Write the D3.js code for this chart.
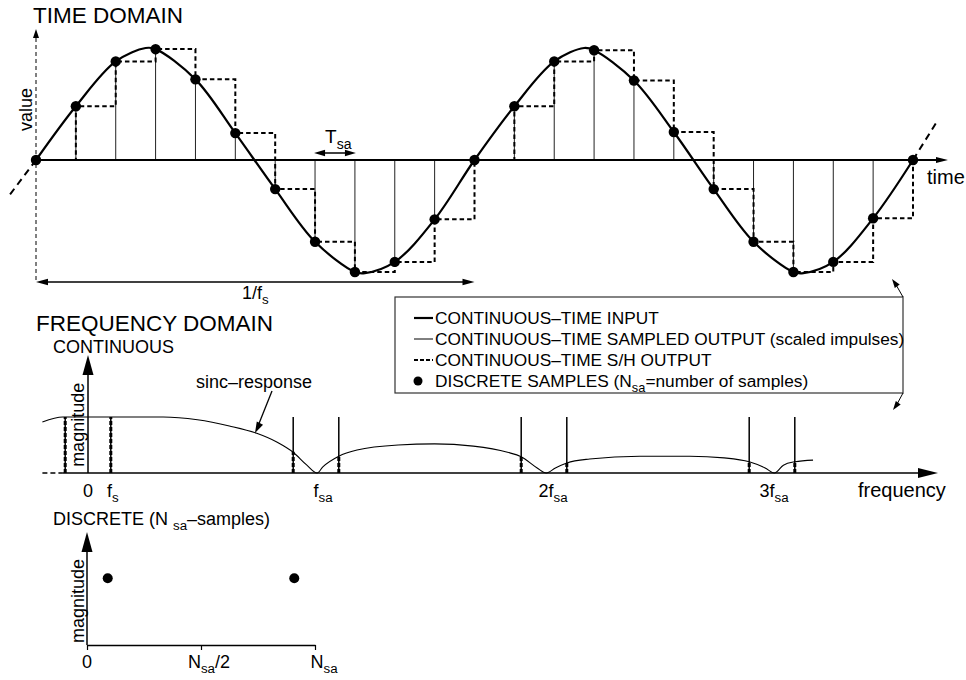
<!DOCTYPE html>
<html><head><meta charset="utf-8">
<script src="https://cdn.jsdelivr.net/npm/d3@7"></script>
<style>
body{margin:0;background:#fff}
svg{display:block;font-family:"Liberation Sans",Arial,Helvetica,sans-serif}
</style>
</head><body>
<svg id="c" width="966" height="680"></svg>
<script>
// ---------------- DATA ----------------
// time domain: sample index and sampled values (normalized amplitude)
const sampleIndex  = [0,1,2,3,4,5,6,7,8,9,10,11,12,13,14,15,16,17,18,19,20,21,22];
const sampleValues = [0,0.48,0.88,0.99,0.72,0.24,-0.26,-0.73,-1.0,-0.91,-0.53,0,
                      0.48,0.88,0.98,0.71,0.25,-0.26,-0.73,-1.0,-0.91,-0.52,0];
// continuous input: samples plus the visible extrema
const inputT = [0,1,2,2.75,3,4,5,6,7,8,8.25,9,10,11,12,13,13.75,14,15,16,17,18,19,19.25,20,21,22];
const inputV = [0,0.48,0.88,1.0,0.99,0.72,0.24,-0.26,-0.73,-1.0,-1.01,-0.91,-0.53,0,
                0.48,0.88,1.0,0.98,0.71,0.25,-0.26,-0.73,-1.0,-1.01,-0.91,-0.52,0];
// dashed extensions of the input beyond the drawn periods
const extLeftT = [0,-0.7],   extLeftV = [0,-0.33];
const extRightT = [22,22.63], extRightV = [0,0.36];

// frequency domain (continuous), frequency in units of f_sa
const sincF = [-0.20,-0.11,0,0.33,0.48,0.62,0.74,0.83,0.90,0.96,1.005,1.03,1.10,1.18,1.36,1.52,1.69,1.84,1.90,1.97,2.01,2.05,2.10,2.20,2.42,2.64,2.79,2.90,2.97,3.01,3.05,3.10,3.18];
const sincM = [0.91,1.0,1.0,1.0,0.95,0.84,0.71,0.55,0.37,0.14,0,0.11,0.30,0.41,0.50,0.52,0.48,0.37,0.29,0.09,0,0.09,0.18,0.25,0.30,0.30,0.27,0.20,0.09,0,0.14,0.20,0.23];
const impulseF   = [-0.1,0.1,0.9,1.1,1.9,2.1,2.9,3.1];
const sampledMag = [1,1,1,1,1,1,1,1];
const shMag      = [1,1,0.38,0.30,0.29,0.18,0.20,0.19];
const freqTickF  = [0,0.1,1,2,3];
const freqTickLabels = [["0"],["f","s"],["f","sa"],["2f","sa"],["3f","sa"]];

// frequency domain (discrete, N_sa = 22 bins)
const binIndex = [2,20];
const binMag   = [0.59,0.59];
const binTicks = [0,11,22];
const binTickLabels = [["0"],["N","sa","/2"],["N","sa"]];

const legendItems = [
  {type:"thick", parts:[["CONTINUOUS\u2013TIME INPUT"]]},
  {type:"thin",  parts:[["CONTINUOUS\u2013TIME SAMPLED OUTPUT (scaled impulses)"]]},
  {type:"dash",  parts:[["CONTINUOUS\u2013TIME S/H OUTPUT"]]},
  {type:"dot",   parts:[["DISCRETE SAMPLES (N"],["sa",true],["=number of samples)"]]}
];

// ---------------- DRAWING ----------------
const svg = d3.select("#c");
const K = "#000";

function line(g,x1,y1,x2,y2,w,dash,col){
  const l=g.append("line").attr("x1",x1).attr("y1",y1).attr("x2",x2).attr("y2",y2)
    .attr("stroke",col||K).attr("stroke-width",w);
  if(dash) l.attr("stroke-dasharray",dash);
  return l;
}
function head(g,x1,y1,x2,y2,len,hw){
  const a=Math.atan2(y2-y1,x2-x1), c=Math.cos(a), s=Math.sin(a);
  const bx=x2-len*c, by=y2-len*s;
  g.append("path").attr("d",`M${x2},${y2}L${bx-hw*s},${by+hw*c}L${bx+hw*s},${by-hw*c}Z`).attr("fill",K);
}
function rich(g,x,y,parts,size,anchor){
  const t=g.append("text").attr("x",x).attr("y",y).attr("font-size",size)
    .attr("text-anchor",anchor||"start").attr("fill",K);
  let cur=0;
  parts.forEach(([s,sub])=>{
    const target = sub ? size*0.3 : 0;
    const ts=t.append("tspan").text(s).attr("dy",target-cur);
    if(sub) ts.attr("font-size",size*0.74);
    cur=target;
  });
  return t;
}
function alt(arr){ return arr.map((s,i)=>[s, i%2===1]); }

// ===== TIME DOMAIN =====
const tx = d3.scaleLinear().domain([0,22]).range([36,913]);
const ty = d3.scaleLinear().domain([-1,1]).range([272,48]);
const gT = svg.append("g");

rich(gT,33,23,[["TIME DOMAIN"]],22.5);

// value axis (dashed) with arrow
line(gT,tx(0),38,tx(0),282,1,"4,3");
head(gT,tx(0),40,tx(0),29,9,3);
gT.append("text").attr("transform",`translate(32,${ty(0.45)}) rotate(-90)`)
  .attr("text-anchor","middle").attr("font-size",18).text("value");

// impulses (sampled output)
sampleIndex.forEach((t,i)=>{
  if(sampleValues[i]!==0) line(gT,tx(t),ty(0),tx(t),ty(sampleValues[i]),1,null,"#222");
});

// S/H output
const shLine = d3.line().x((d,i)=>tx(sampleIndex[i])).y(d=>ty(d)).curve(d3.curveStepAfter);
gT.append("path").attr("d",shLine(sampleValues)).attr("fill","none")
  .attr("stroke",K).attr("stroke-width",2).attr("stroke-dasharray","4.5,3");

// time axis
line(gT,tx(0),ty(0),940,ty(0),1.8);
head(gT,930,ty(0),948,ty(0),12,3);
rich(gT,927,184,[["time"]],20);

// continuous input
const inLine = d3.line().x((d,i)=>tx(inputT[i])).y(d=>ty(d)).curve(d3.curveCatmullRom.alpha(0.5));
gT.append("path").attr("d",inLine(inputV)).attr("fill","none").attr("stroke",K).attr("stroke-width",2.2);
const extLine = (T)=>d3.line().x((d,i)=>tx(T[i])).y(d=>ty(d));
gT.append("path").attr("d",extLine(extLeftT)(extLeftV)).attr("fill","none").attr("stroke",K).attr("stroke-width",2).attr("stroke-dasharray","7,5");
gT.append("path").attr("d",extLine(extRightT)(extRightV)).attr("fill","none").attr("stroke",K).attr("stroke-width",2).attr("stroke-dasharray","7,5");

// discrete samples
gT.selectAll("circle.s").data(sampleValues).join("circle").attr("class","s")
  .attr("cx",(d,i)=>tx(sampleIndex[i])).attr("cy",d=>ty(d)).attr("r",5.2).attr("fill",K);

// T_sa annotation
line(gT,tx(7)+3,153,tx(8)-3,153,1.5);
head(gT,tx(7)+10,153,tx(7)-1,153,11,3.2);
head(gT,tx(8)-10,153,tx(8)+1,153,11,3.2);
rich(gT,tx(7)+10,143,[["T"],["sa",true]],19);

// 1/f_s annotation
line(gT,tx(0)+4,282,tx(11)-4,282,1.5);
head(gT,tx(0)+12,282,tx(0),282,12,3.3);
head(gT,tx(11)-12,282,tx(11),282,12,3.3);
rich(gT,(tx(0)+tx(11))/2,299,[["1/f"],["s",true]],18,"middle");

// ===== LEGEND =====
const gL = svg.append("g");
gL.append("rect").attr("x",395).attr("y",297).attr("width",508).attr("height",96)
  .attr("fill","#fff").attr("stroke","#333").attr("stroke-width",1.2);
const rowY = [318,339,360,381];
legendItems.forEach((it,i)=>{
  const y=rowY[i];
  if(it.type==="thick") line(gL,414,y,433,y,2.2);
  if(it.type==="thin")  line(gL,414,y,433,y,1);
  if(it.type==="dash")  line(gL,414,y,433,y,2,"4,2");
  if(it.type==="dot")   gL.append("circle").attr("cx",418).attr("cy",y).attr("r",4.5).attr("fill",K);
  rich(gL,435,y+6,it.parts,17.3);
});
line(gL,903,297,895,283,1);
head(gL,897,286,892,279,9,3);
line(gL,903,393,896,406,1);
head(gL,898,403,893,410,9,3);

// ===== FREQUENCY DOMAIN : CONTINUOUS =====
const fx = d3.scaleLinear().domain([0,1]).range([88,316]);
const fy = d3.scaleLinear().domain([0,1]).range([473,417]);
const gF = svg.append("g");
rich(gF,36,331,[["FREQUENCY DOMAIN"]],22.5);
rich(gF,53,353,[["CONTINUOUS"]],18);

// axes
line(gF,fx(0),370,fx(0),fy(0),1.5);
head(gF,fx(0),380,fx(0),355,20,5.5);
line(gF,fx(-0.2),fy(0),fx(-0.11),fy(0),1.5,"5,3");
line(gF,fx(-0.11),fy(0),925,fy(0),1.5);
head(gF,900,fy(0),938,fy(0),20,5);
gF.append("text").attr("transform",`translate(84,${fy(0.86)}) rotate(-90)`)
  .attr("text-anchor","middle").attr("font-size",18).text("magnitude");

// sinc response
const sincLine = d3.line().x((d,i)=>fx(sincF[i])).y(d=>fy(d)).curve(d3.curveMonotoneX);
gF.append("path").attr("d",sincLine(sincM)).attr("fill","none").attr("stroke",K).attr("stroke-width",1.1);

// impulses: sampled output (thin) and S/H output (thick dashed)
impulseF.forEach((f,i)=>{
  line(gF,fx(f),fy(0),fx(f),fy(sampledMag[i]),1.5);
  line(gF,fx(f),fy(0),fx(f),fy(shMag[i]),3,"4,2");
});

// tick labels
const freqLabelDx = [0,2,7,9,2];
freqTickF.forEach((f,i)=>{
  const lab=freqTickLabels[i];
  if(lab.length===1) rich(gF,fx(f),497,[[lab[0]]],18,"middle");
  else rich(gF,fx(f)+freqLabelDx[i],497,alt(lab),18,"middle");
});
rich(gF,858,497,[["frequency"]],20);

// sinc-response label + arrow
rich(gF,196,388,[["sinc\u2013response"]],18);
line(gF,272,391,258,426,1.3);
head(gF,266,411,255,433,11,3.5);

// ===== FREQUENCY DOMAIN : DISCRETE =====
const dx = d3.scaleLinear().domain([0,22]).range([87,315]);
const dy = d3.scaleLinear().domain([0,1]).range([645,532]);
const gD = svg.append("g");
rich(gD,53,525,[["DISCRETE (N "],["sa",true],["\u2013samples)"]],18);
line(gD,dx(0),548,dx(0),dy(0),1.5);
head(gD,dx(0),560,dx(0),532,20,5.5);
const ax = d3.axisBottom(dx).tickValues(binTicks).tickFormat("").tickSize(5).tickSizeOuter(0);
gD.append("g").attr("transform",`translate(0,${dy(0)})`).call(ax)
  .call(g=>{g.select(".domain").attr("stroke",K).attr("stroke-width",1.5);
            g.selectAll(".tick line").attr("stroke",K).attr("stroke-width",1.2);});
const binLabelDx = [0,8,9];
binTicks.forEach((b,i)=>{
  rich(gD,dx(b)+binLabelDx[i],668,alt(binTickLabels[i]),18,"middle");
});
gD.append("text").attr("transform",`translate(84,${dy(0.39)}) rotate(-90)`)
  .attr("text-anchor","middle").attr("font-size",18).text("magnitude");
gD.selectAll("circle.b").data(binMag).join("circle").attr("class","b")
  .attr("cx",(d,i)=>dx(binIndex[i])).attr("cy",d=>dy(d)).attr("r",5).attr("fill",K);
</script>
</body></html>
